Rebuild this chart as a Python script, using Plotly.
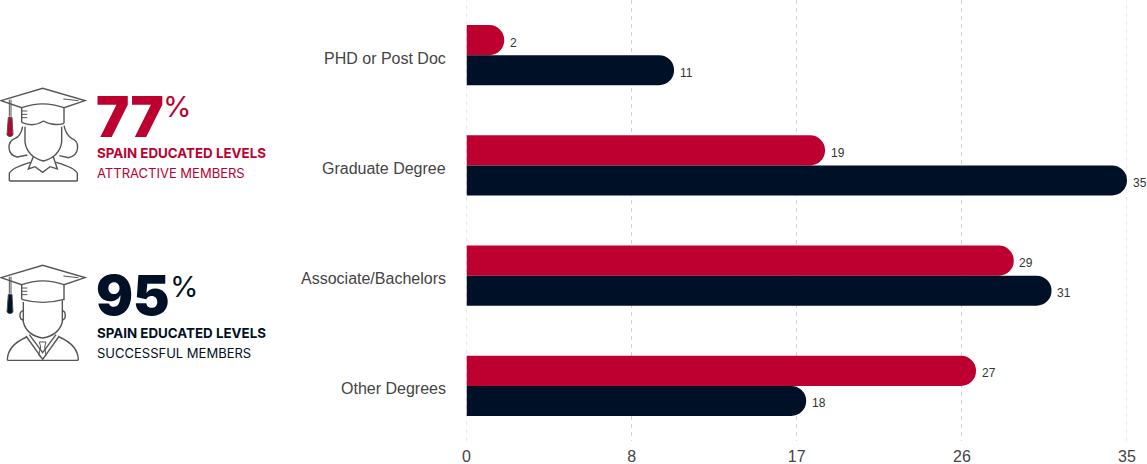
import plotly.graph_objects as go

W, H = 1147, 464
categories = ["PHD or Post Doc", "Graduate Degree", "Associate/Bachelors", "Other Degrees"]
attractive = [2, 19, 29, 27]
successful = [11, 35, 31, 18]
tick_vals = [0, 8.75, 17.5, 26.25, 35]
tick_text = ["0", "8", "17", "26", "35"]
RED, NAVY, ICON = "#bd0030", "#001026", "#555555"
SANS = "Liberation Sans, Arial, sans-serif"
HEAD = "Inter, Lato, sans-serif"
GRID = "#d2d2d2"

fig = go.Figure()
for name, vals, col in [("Attractive", attractive, RED), ("Successful", successful, NAVY)]:
    fig.add_trace(go.Bar(y=categories, x=vals, orientation="h", name=name,
                         marker=dict(color=col, cornerradius=15, line=dict(width=0)),
                         cliponaxis=False, hoverinfo="skip"))


def px(cmds, ox, oy, s=1 / 3):
    """Turn a list of (letter, pts...) in icon-local pixels into a paper-space SVG path."""
    out = []
    for c in cmds:
        letter, pts = c[0], c[1:]
        if letter == "Z":
            out.append("Z")
            continue
        out.append(letter + " ".join(f"{(ox + x * s) / W:.5f},{1 - (oy + y * s) / H:.5f}" for x, y in pts))
    return " ".join(out)


def add_path(cmds, ox, oy, color=ICON, fill=None, width=1.4):
    fig.add_shape(type="path", xref="paper", yref="paper", path=px(cmds, ox, oy),
                  line=dict(color=color, width=width), fillcolor=fill or "rgba(0,0,0,0)", layer="above")


def cap(ox, oy, tassel):
    add_path([("M", (3, 47)), ("L", (128, 10)), ("L", (255, 47)), ("L", (192, 68)),
              ("Q", (128, 45), (65, 68)), ("Z",)], ox, oy)
    add_path([("M", (65, 68)), ("L", (65, 112))], ox, oy)
    add_path([("M", (192, 68)), ("L", (192, 115))], ox, oy)
    add_path([("M", (190, 42)), ("L", (235, 47))], ox, oy, width=1)
    for yy in (78, 88, 98):
        add_path([("M", (65, yy)), ("L", (82, yy))], ox, oy, width=1)
    add_path([("M", (28, 44)), ("L", (28, 95)), ("M", (33, 44)), ("L", (33, 95))], ox, oy, width=1)
    add_path([("M", (25, 97)), ("L", (36, 97)), ("L", (39, 150)), ("Q", (30, 160), (21, 150)), ("Z",)],
             ox, oy, color=ICON, fill=tassel, width=1)


def female(ox, oy):
    cap(ox, oy, RED)
    add_path([("M", (65, 112)), ("Q", (100, 128), (130, 108)), ("Q", (160, 125), (192, 115))], ox, oy)
    add_path([("M", (75, 125)), ("L", (75, 172)), ("Q", (82, 215), (130, 228)),
              ("Q", (178, 215), (185, 172)), ("L", (185, 125))], ox, oy)
    add_path([("M", (68, 125)), ("Q", (62, 155), (45, 160)), ("C", (20, 170), (20, 210), (52, 216)), ("L", (82, 210))], ox, oy)
    add_path([("M", (192, 122)), ("Q", (198, 150), (215, 160)), ("C", (240, 170), (240, 210), (206, 218)), ("L", (178, 212))], ox, oy)
    add_path([("M", (28, 288)), ("L", (28, 265)), ("Q", (35, 248), (92, 232))], ox, oy)
    add_path([("M", (232, 288)), ("L", (232, 265)), ("Q", (225, 248), (168, 232))], ox, oy)
    add_path([("M", (28, 288)), ("L", (232, 288))], ox, oy)
    add_path([("M", (100, 215)), ("L", (85, 252)), ("L", (105, 245)), ("L", (128, 262)),
              ("L", (150, 245)), ("L", (172, 252)), ("L", (160, 215))], ox, oy)


def male(ox, oy):
    cap(ox, oy, NAVY)
    add_path([("M", (65, 112)), ("Q", (128, 130), (192, 112))], ox, oy)
    add_path([("M", (70, 120)), ("L", (70, 180)), ("Q", (80, 220), (128, 228)),
              ("Q", (176, 220), (187, 180)), ("L", (187, 115))], ox, oy)
    add_path([("M", (70, 145)), ("Q", (55, 150), (62, 170)), ("L", (70, 175))], ox, oy)
    add_path([("M", (187, 145)), ("Q", (200, 150), (194, 170)), ("L", (187, 175))], ox, oy)
    add_path([("M", (22, 295)), ("Q", (22, 250), (80, 225))], ox, oy)
    add_path([("M", (235, 295)), ("Q", (235, 250), (178, 225))], ox, oy)
    add_path([("M", (22, 295)), ("L", (235, 295))], ox, oy)
    add_path([("M", (78, 222)), ("L", (128, 292)), ("L", (178, 222))], ox, oy)
    add_path([("M", (88, 218)), ("L", (128, 272)), ("L", (168, 218))], ox, oy)
    add_path([("M", (118, 240)), ("L", (138, 240)), ("L", (134, 255)), ("L", (138, 280)),
              ("L", (128, 290)), ("L", (116, 280)), ("L", (122, 255)), ("Z",)], ox, oy, width=1)


female(0, 85)
male(0, 262)


def note(x, y, text, size, color, weight=400):
    fig.add_annotation(xref="paper", yref="paper", x=x / W, y=1 - y / H, text=text, showarrow=False,
                       xanchor="left", yanchor="middle", align="left", borderpad=0, borderwidth=0,
                       font=dict(family=HEAD, size=size, color=color, weight=weight))


note(96, 117, "77", 56, RED, 900)
note(163, 106, "%", 29, RED, 400)
note(97, 153, "SPAIN EDUCATED LEVELS", 13.35, RED, 700)
note(97, 173, "ATTRACTIVE MEMBERS", 13, RED, 400)
note(96, 295, "95", 55, NAVY, 900)
note(170, 286, "%", 29, NAVY, 400)
note(97, 333, "SPAIN EDUCATED LEVELS", 13.35, NAVY, 700)
note(97, 353, "SUCCESSFUL MEMBERS", 13, NAVY, 400)

for cat in categories:
    fig.add_annotation(xref="paper", yref="y", x=447 / W, y=cat, text=cat, showarrow=False,
                       xanchor="right", yanchor="middle", yshift=-3, borderpad=0,
                       font=dict(family=SANS, size=16, color="#444444"))

# Value labels sit beside each bar end, from the data
for vals, dy in [(attractive, 12.5), (successful, -17.5)]:
    for cat, v in zip(categories, vals):
        fig.add_annotation(xref="x", yref="y", x=v, y=cat, text=str(v), showarrow=False,
                           xanchor="left", yanchor="middle", xshift=4.5, yshift=dy, borderpad=0,
                           font=dict(family=SANS, size=12, color="#333333"))

# Plotly drops the gridlines that fall on the range ends, so they are added back
for v in (tick_vals[0], tick_vals[-1]):
    fig.add_shape(type="line", xref="x", yref="paper", x0=v, x1=v, y0=1 - 441 / H, y1=1, layer="below",
                  line=dict(color=GRID, width=1, dash="4px,4px"))

fig.update_layout(
    width=W, height=H, margin=dict(l=0, r=0, t=0, b=0, autoexpand=False), showlegend=False,
    paper_bgcolor="white", plot_bgcolor="white", barmode="group", bargap=50 / 110, bargroupgap=0,
    xaxis=dict(domain=[466.5 / W, 1127 / W], range=[0, 35], tickmode="array", tickvals=tick_vals,
               ticktext=tick_text, showgrid=True, gridcolor=GRID, griddash="4px,4px", gridwidth=1,
               zeroline=False, showline=False, ticks="", ticklabelstandoff=4, automargin=False,
               tickfont=dict(family=SANS, size=16, color="#444444")),
    yaxis=dict(domain=[1 - 441 / H, 1], autorange="reversed", showgrid=False, zeroline=False,
               showline=False, ticks="", showticklabels=False, automargin=False),
)
fig.write_html("out.html", post_script="document.body.style.margin='0';",
               config={"displayModeBar": False})
